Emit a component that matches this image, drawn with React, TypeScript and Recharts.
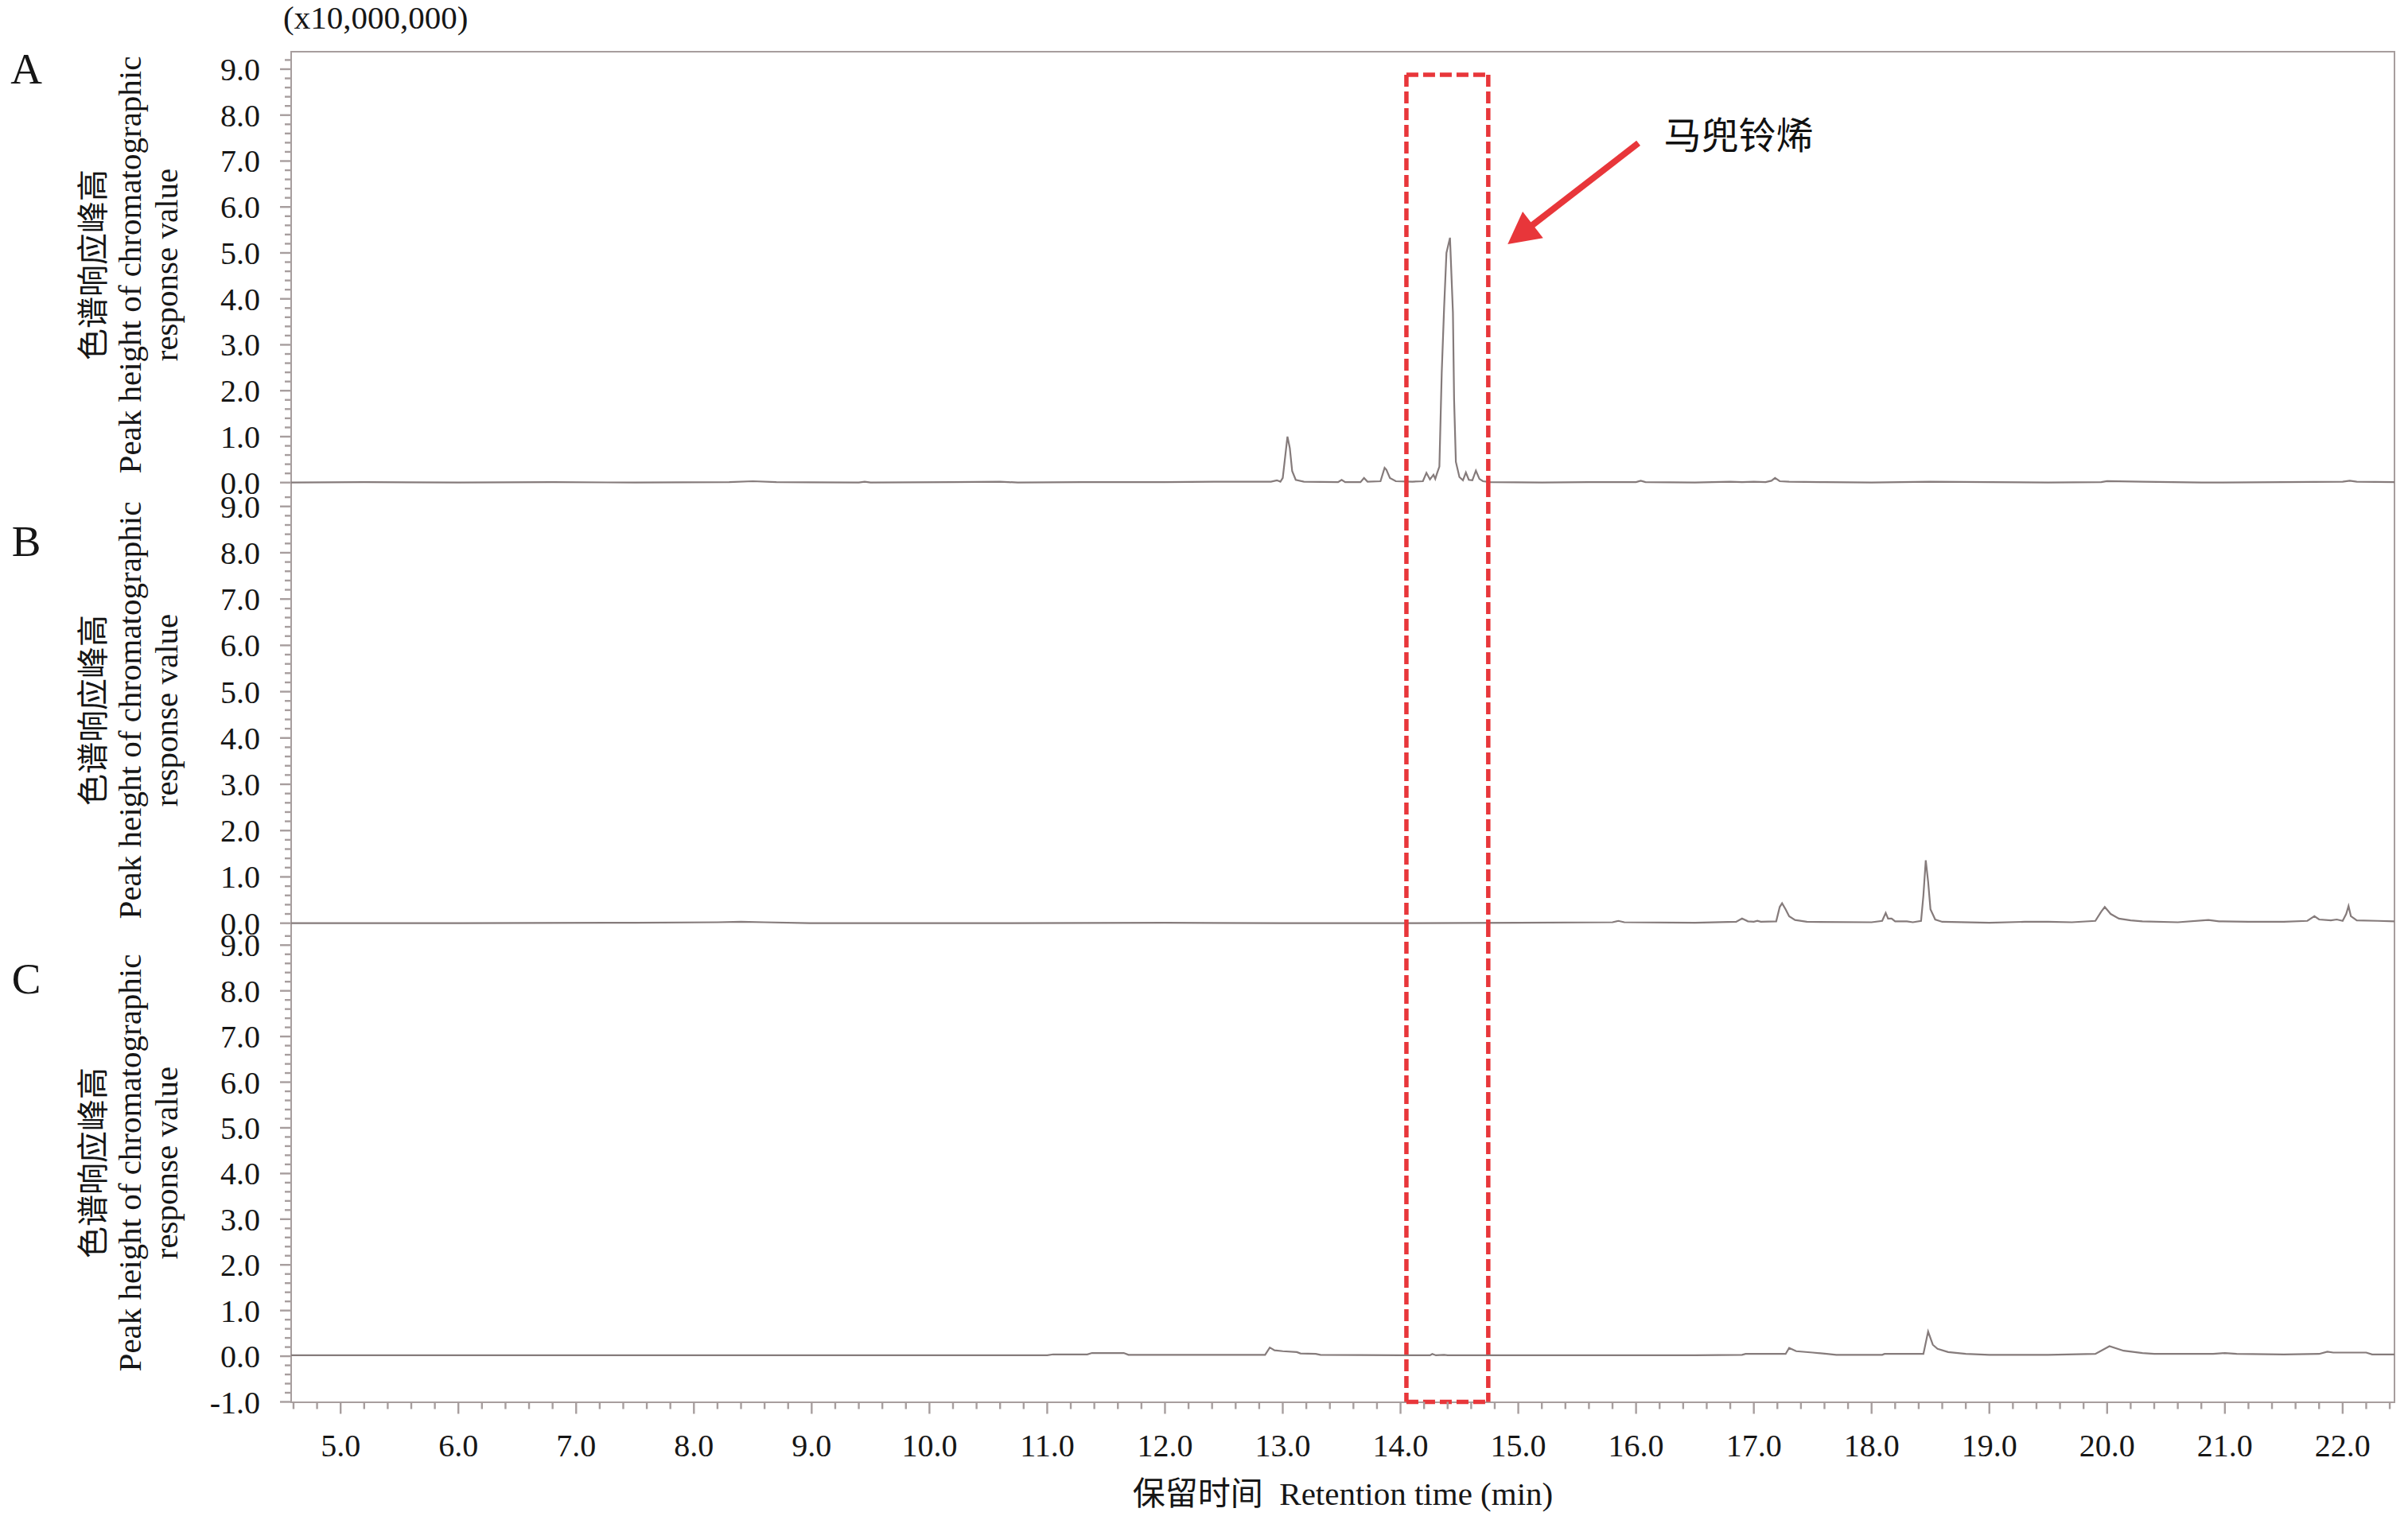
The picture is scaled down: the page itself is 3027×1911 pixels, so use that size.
import React from 'react';
import { LineChart, Line, XAxis, YAxis, ReferenceLine } from 'recharts';

// ---------------- data ----------------
// retention time (min), response (x10,000,000)
const traceA: [number, number][] = [
  [4.58, 0.0], [5.2, 0.01], [6.0, 0.0], [6.8, 0.01], [7.5, 0.0], [8.3, 0.01], [8.5, 0.03], [8.7, 0.01],
  [9.4, 0.0], [9.45, 0.02], [9.5, 0.0], [10.2, 0.01], [10.6, 0.02], [10.75, 0.0], [11.3, 0.01], [12.0, 0.01],
  [12.5, 0.02], [12.9, 0.02], [12.95, 0.05], [12.98, 0.02], [13.0, 0.1], [13.02, 0.55], [13.04, 1.0],
  [13.06, 0.75], [13.08, 0.25], [13.11, 0.06], [13.18, 0.02], [13.47, 0.01], [13.5, 0.06], [13.53, 0.01],
  [13.66, 0.01], [13.69, 0.1], [13.72, 0.02], [13.83, 0.03], [13.865, 0.32], [13.88, 0.28], [13.91, 0.1],
  [13.96, 0.03], [14.1, 0.02], [14.19, 0.03], [14.22, 0.21], [14.25, 0.07], [14.28, 0.17], [14.295, 0.08],
  [14.31, 0.2], [14.33, 0.35], [14.35, 2.4], [14.37, 3.8], [14.39, 5.0], [14.42, 5.33], [14.445, 3.7],
  [14.455, 1.8], [14.47, 0.45], [14.5, 0.12], [14.53, 0.05], [14.555, 0.22], [14.58, 0.06], [14.61, 0.05],
  [14.64, 0.26], [14.67, 0.08], [14.7, 0.03], [14.76, 0.01], [15.2, 0.0], [15.6, 0.01], [16.0, 0.01],
  [16.04, 0.04], [16.08, 0.01], [16.5, 0.0], [16.8, 0.02], [16.9, 0.01], [17.0, 0.02], [17.1, 0.01],
  [17.15, 0.04], [17.18, 0.1], [17.22, 0.03], [17.3, 0.02], [17.6, 0.01], [18.0, 0.0], [18.5, 0.02],
  [19.0, 0.01], [19.5, 0.0], [19.95, 0.01], [20.0, 0.03], [20.3, 0.02], [20.8, 0.0], [21.5, 0.01],
  [22.0, 0.02], [22.06, 0.04], [22.12, 0.02], [22.44, 0.01],
];

const traceB: [number, number][] = [
  [4.58, 0.0], [6.0, 0.0], [7.5, 0.01], [8.2, 0.02], [8.4, 0.03], [8.6, 0.02], [9.0, 0.0], [10.5, 0.0],
  [12.0, 0.01], [13.0, 0.0], [14.0, 0.0], [15.0, 0.01], [15.8, 0.02], [15.85, 0.05], [15.9, 0.02],
  [16.5, 0.01], [16.85, 0.03], [16.9, 0.1], [16.95, 0.04], [17.0, 0.03], [17.03, 0.05], [17.06, 0.03],
  [17.19, 0.04], [17.22, 0.35], [17.24, 0.43], [17.27, 0.3], [17.3, 0.15], [17.35, 0.07], [17.45, 0.03],
  [18.0, 0.02], [18.09, 0.05], [18.12, 0.22], [18.14, 0.1], [18.17, 0.1], [18.2, 0.04], [18.3, 0.04],
  [18.35, 0.02], [18.42, 0.05], [18.44, 0.6], [18.46, 1.36], [18.48, 0.9], [18.5, 0.3], [18.54, 0.08],
  [18.6, 0.03], [19.0, 0.01], [19.3, 0.03], [19.5, 0.03], [19.7, 0.02], [19.9, 0.05], [19.95, 0.25],
  [19.98, 0.35], [20.03, 0.2], [20.1, 0.1], [20.2, 0.06], [20.3, 0.04], [20.6, 0.02], [20.86, 0.07],
  [20.95, 0.04], [21.2, 0.03], [21.5, 0.03], [21.7, 0.05], [21.76, 0.15], [21.8, 0.08], [21.9, 0.06],
  [21.95, 0.08], [22.0, 0.05], [22.03, 0.2], [22.05, 0.37], [22.07, 0.15], [22.12, 0.06], [22.3, 0.05],
  [22.44, 0.04],
];

const traceC: [number, number][] = [
  [4.58, 0.02], [6.0, 0.02], [7.5, 0.02], [9.0, 0.02], [10.5, 0.02], [11.0, 0.02], [11.05, 0.04],
  [11.34, 0.04], [11.38, 0.07], [11.65, 0.07], [11.69, 0.03], [12.0, 0.03], [12.5, 0.03], [12.85, 0.03],
  [12.89, 0.19], [12.93, 0.13], [13.0, 0.11], [13.12, 0.09], [13.15, 0.06], [13.28, 0.05], [13.32, 0.03],
  [14.0, 0.02], [14.25, 0.02], [14.27, 0.05], [14.3, 0.02], [14.37, 0.03], [14.4, 0.02], [15.0, 0.02],
  [15.5, 0.02], [16.0, 0.02], [16.5, 0.02], [16.9, 0.03], [16.93, 0.05], [17.27, 0.05], [17.3, 0.18],
  [17.36, 0.11], [17.5, 0.08], [17.62, 0.05], [17.7, 0.03], [18.09, 0.03], [18.11, 0.05], [18.44, 0.05],
  [18.48, 0.54], [18.52, 0.25], [18.56, 0.16], [18.65, 0.09], [18.8, 0.05], [19.0, 0.03], [19.5, 0.03],
  [19.9, 0.05], [20.02, 0.22], [20.14, 0.12], [20.3, 0.07], [20.4, 0.05], [20.9, 0.05], [21.0, 0.07],
  [21.1, 0.05], [21.5, 0.04], [21.8, 0.05], [21.87, 0.1], [21.92, 0.08], [22.2, 0.08], [22.25, 0.04],
  [22.44, 0.04],
];

// tick labels
const xMajorTicks = [5, 6, 7, 8, 9, 10, 11, 12, 13, 14, 15, 16, 17, 18, 19, 20, 21, 22];
const yMajorTicksA = [0, 1, 2, 3, 4, 5, 6, 7, 8, 9];
const yMajorTicksB = [0, 1, 2, 3, 4, 5, 6, 7, 8, 9];
const yMajorTicksC = [-1, 0, 1, 2, 3, 4, 5, 6, 7, 8, 9];

// texts
const panelLetters = ['A', 'B', 'C'];
const yTitleLines = ['色谱响应峰高', 'Peak height of chromatographic', 'response value'];
const xTitle = '保留时间\u00a0\u00a0Retention time (min)';
const scaleNote = '(x10,000,000)';
const compoundName = '马兜铃烯';

// annotations (data units)
const boxTimes = [14.05, 14.745];
const boxTopValue = 8.88;
const arrowFrom = { x: 16.02, y: 7.39 };
const arrowTo = { x: 14.91, y: 5.19 };

// ---------------- layout ----------------
const W = 3027;
const H = 1911;
const PLOT_LEFT = 366;
const PLOT_RIGHT = 3010;
const X_DOMAIN: [number, number] = [4.58, 22.44];
const AXIS = '#a79e9e';
const TRACE = '#857b7b';
const RED = '#e8363a';
const SERIF = "'Liberation Serif', 'Times New Roman', 'Noto Sans CJK SC', serif";
const CJK = "'Noto Sans CJK SC', 'Liberation Serif', sans-serif";

const toRows = (arr: [number, number][]) => arr.map(([t, v]) => ({ t, v }));

const withMinor = (majors: number[], lo: number, hi: number) => {
  const out: number[] = [];
  const a = Math.round(lo * 5);
  const b = Math.round(hi * 5);
  for (let i = a; i <= b; i++) out.push(Math.round(i * 2) / 10);
  majors.forEach((m) => { if (!out.includes(m)) out.push(m); });
  return out.sort((p, q) => p - q);
};

const isMajor = (v: number) => Math.abs(v - Math.round(v)) < 1e-6;

const XTick = (props: any) => {
  const { x, y, payload } = props;
  const v = payload.value as number;
  const major = isMajor(v);
  return (
    <g>
      <line x1={x} y1={y} x2={x} y2={y + (major ? 15 : 9)} stroke={AXIS} strokeWidth={2.4} />
      {major && (
        <text x={x} y={y + 54} dy="0.35em" textAnchor="middle" fontFamily={SERIF} fontSize={40} fill="#161616">
          {v.toFixed(1)}
        </text>
      )}
    </g>
  );
};

const YTick = (props: any) => {
  const { x, y, payload } = props;
  const v = payload.value as number;
  const major = isMajor(v);
  return (
    <g>
      <line x1={x - (major ? 14 : 8)} y1={y} x2={x} y2={y} stroke={AXIS} strokeWidth={2.4} />
      {major && (
        <text x={x - 39} y={y} dy="0.35em" textAnchor="end" fontFamily={SERIF} fontSize={40} fill="#161616">
          {v.toFixed(1)}
        </text>
      )}
    </g>
  );
};

const ArrowShape = (props: any) => {
  const { x1, y1, x2, y2 } = props;
  const dx = x2 - x1;
  const dy = y2 - y1;
  const len = Math.hypot(dx, dy) || 1;
  const ux = dx / len;
  const uy = dy / len;
  const headLen = 40;
  const headW = 21;
  const bx = x2 - ux * headLen;
  const by = y2 - uy * headLen;
  const px = -uy;
  const py = ux;
  return (
    <g>
      <line x1={x1} y1={y1} x2={bx + ux * 4} y2={by + uy * 4} stroke={RED} strokeWidth={8} />
      <polygon
        points={`${x2},${y2} ${bx + px * headW},${by + py * headW} ${bx - px * headW},${by - py * headW}`}
        fill={RED}
      />
      <text x={x1 + 32} y={y1 - 13} dominantBaseline="central" fontFamily={CJK} fontSize={47} fill="#111">
        {compoundName}
      </text>
    </g>
  );
};

type PanelProps = {
  data: [number, number][];
  domain: [number, number];
  ticks: number[];
  top: number;
  bottom: number;
  showX: boolean;
  children?: React.ReactNode;
};

const X_AXIS_H = 140;

function Panel({ data, domain, ticks, top, bottom, showX, children }: PanelProps) {
  const xh = showX ? X_AXIS_H : 0;
  return (
    <div style={{ position: 'absolute', left: 0, top: 0, width: W, height: H }}>
      <LineChart
        width={W}
        height={H}
        data={toRows(data)}
        margin={{ top, bottom: H - bottom - xh, left: 0, right: W - PLOT_RIGHT }}
      >
        <XAxis
          dataKey="t"
          type="number"
          domain={X_DOMAIN}
          allowDataOverflow
          hide={!showX}
          height={showX ? X_AXIS_H : undefined}
          ticks={withMinor(xMajorTicks, 4.6, 22.4)}
          interval={0}
          tick={(p: any) => <XTick {...p} />}
          tickLine={false}
          axisLine={false}
          tickSize={0}
          tickMargin={0}
        />
        <YAxis
          type="number"
          domain={domain}
          allowDataOverflow
          ticks={ticks}
          interval={0}
          width={PLOT_LEFT}
          tick={(p: any) => <YTick {...p} />}
          tickLine={false}
          axisLine={false}
          tickSize={0}
          tickMargin={0}
        />
        <Line
          type="linear"
          dataKey="v"
          stroke={TRACE}
          strokeWidth={2.2}
          dot={false}
          activeDot={false}
          isAnimationActive={false}
        />
        {children}
      </LineChart>
    </div>
  );
}

const A_DOMAIN: [number, number] = [-0.057, 9.372];
const B_DOMAIN: [number, number] = [-0.04, 9.459];
const C_DOMAIN: [number, number] = [-1.0, 9.44];

const dash = { stroke: RED, strokeWidth: 5.5, strokeDasharray: '15 6', ifOverflow: 'visible' as const };

export default function App() {
  const frameTop = 65.5;
  const frameBottom = 1762.5;
  const letterBaselines = [105, 699, 1249];
  const titleCenters = [333, 893, 1462];
  return (
    <div style={{ position: 'absolute', left: 0, top: 0, width: W, height: H, background: '#fff', overflow: 'hidden' }}>
      <style>{`.recharts-surface{overflow:visible}`}</style>
      <svg width={W} height={H} style={{ position: 'absolute', left: 0, top: 0 }}>
        <text x={356} y={36} fontFamily={SERIF} fontSize={41} fill="#161616">{scaleNote}</text>
        {panelLetters.map((l, i) => (
          <text key={l} x={33} y={letterBaselines[i]} textAnchor="middle" fontFamily={SERIF} fontSize={55} fill="#161616">
            {l}
          </text>
        ))}
        {titleCenters.map((cy, i) => (
          <g key={i}>
            <text transform={`translate(114,${cy}) rotate(-90)`} textAnchor="middle" dominantBaseline="central"
              fontFamily={CJK} fontSize={40} fill="#161616">{yTitleLines[0]}</text>
            <text transform={`translate(177,${cy}) rotate(-90)`} textAnchor="middle"
              fontFamily={SERIF} fontSize={41} fill="#161616">{yTitleLines[1]}</text>
            <text transform={`translate(223,${cy}) rotate(-90)`} textAnchor="middle"
              fontFamily={SERIF} fontSize={41} fill="#161616">{yTitleLines[2]}</text>
          </g>
        ))}
        <text x={1688} y={1878} textAnchor="middle" dominantBaseline="central" fontFamily={SERIF} fontSize={41} fill="#161616">
          {xTitle}
        </text>
      </svg>
      <div
        style={{
          position: 'absolute',
          left: PLOT_LEFT - 1.25,
          top: frameTop - 1.25,
          width: PLOT_RIGHT - PLOT_LEFT + 2.5,
          height: frameBottom - frameTop + 2.5,
          border: `2.5px solid ${AXIS}`,
          boxSizing: 'border-box',
        }}
      />
      <Panel data={traceA} domain={A_DOMAIN} ticks={withMinor(yMajorTicksA, 0, 9.2)} top={65.5} bottom={610} showX={false}>
        <ReferenceLine segment={[{ x: boxTimes[0], y: boxTopValue }, { x: boxTimes[0], y: A_DOMAIN[0] }]} {...dash} />
        <ReferenceLine segment={[{ x: boxTimes[1], y: boxTopValue }, { x: boxTimes[1], y: A_DOMAIN[0] }]} {...dash} />
        <ReferenceLine segment={[{ x: boxTimes[0], y: boxTopValue }, { x: boxTimes[1], y: boxTopValue }]} {...dash} />
        <ReferenceLine segment={[arrowFrom, arrowTo]} ifOverflow="visible" shape={(p: any) => <ArrowShape {...p} />} />
      </Panel>
      <Panel data={traceB} domain={B_DOMAIN} ticks={withMinor(yMajorTicksB, 0, 9.2)} top={610} bottom={1163} showX={false}>
        <ReferenceLine segment={[{ x: boxTimes[0], y: B_DOMAIN[1] }, { x: boxTimes[0], y: B_DOMAIN[0] }]} {...dash} />
        <ReferenceLine segment={[{ x: boxTimes[1], y: B_DOMAIN[1] }, { x: boxTimes[1], y: B_DOMAIN[0] }]} {...dash} />
      </Panel>
      <Panel data={traceC} domain={C_DOMAIN} ticks={withMinor(yMajorTicksC, -1, 9.2)} top={1163} bottom={frameBottom} showX>
        <ReferenceLine segment={[{ x: boxTimes[0], y: C_DOMAIN[1] }, { x: boxTimes[0], y: C_DOMAIN[0] }]} {...dash} />
        <ReferenceLine segment={[{ x: boxTimes[1], y: C_DOMAIN[1] }, { x: boxTimes[1], y: C_DOMAIN[0] }]} {...dash} />
        <ReferenceLine segment={[{ x: boxTimes[0], y: C_DOMAIN[0] }, { x: boxTimes[1], y: C_DOMAIN[0] }]} {...dash} />
      </Panel>
    </div>
  );
}
